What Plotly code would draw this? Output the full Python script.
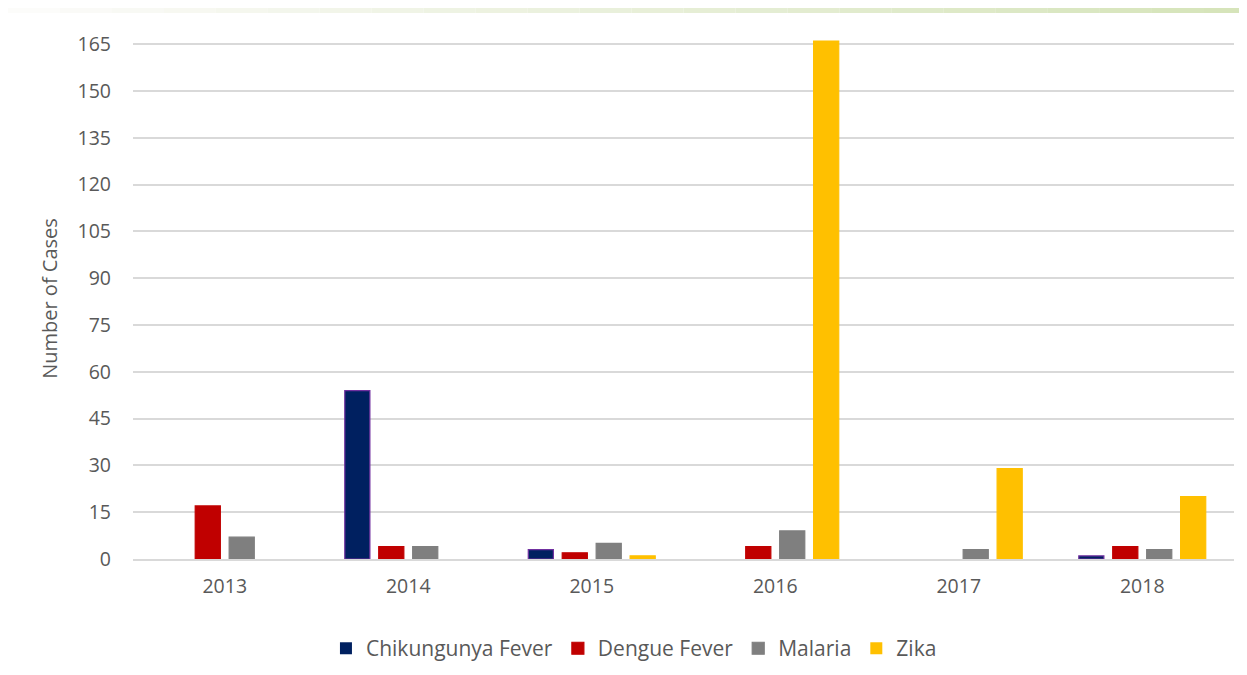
import plotly.graph_objects as go

years = ["2013", "2014", "2015", "2016", "2017", "2018"]
chikungunya = [0, 54, 3, 0, 0, 1]
dengue = [17, 4, 2, 4, 0, 4]
malaria = [7, 4, 5, 9, 3, 3]
zika = [0, 0, 1, 166, 29, 20]
y_ticks = [0, 15, 30, 45, 60, 75, 90, 105, 120, 135, 150, 165]

series = [
    ("Chikungunya Fever", chikungunya, "#002060", "#7030A0"),
    ("Dengue Fever", dengue, "#C00000", "#C00000"),
    ("Malaria", malaria, "#7F7F7F", "#7F7F7F"),
    ("Zika", zika, "#FFC000", "#FFC000"),
]

FONT = "Open Sans, sans-serif"
GREY = "#595959"

fig = go.Figure()
for name, vals, color, line in series:
    fig.add_trace(go.Bar(
        name=name, x=years, y=vals,
        marker=dict(color=color,
                    line=dict(color=line, width=[1.2 if v > 0 else 0 for v in vals])),
    ))

# faint gradient strip at the top of the image
n = 24
W = 1101
for i in range(n):
    t = i / (n - 1)
    r = int(252 - (252 - 214) * t)
    g = int(252 - (252 - 228) * t)
    b = int(250 - (250 - 186) * t)
    fig.add_shape(type="rect", xref="paper", yref="paper",
                  x0=(-125 + i * 1247 / n) / W,
                  x1=(-125 + (i + 1) * 1247 / n) / W,
                  y0=1 + 25 / 521, y1=1 + 30 / 521,
                  fillcolor=f"rgb({r},{g},{b})", line=dict(width=0), layer="below")

fig.update_layout(
    width=1247, height=675,
    margin=dict(l=125, r=21, t=30, b=124),
    paper_bgcolor="white", plot_bgcolor="white",
    barmode="group", bargap=0.26, bargroupgap=0.26,
    font=dict(family=FONT, size=19, color=GREY),
    showlegend=True,
    legend=dict(orientation="h", x=0.455, xanchor="center", y=-0.172, yanchor="middle",
                font=dict(family=FONT, size=21, color=GREY), itemwidth=30,
                traceorder="normal", tracegroupgap=0),
    xaxis=dict(showgrid=False, showline=True, linecolor="#D9D9D9", linewidth=1.5,
               ticks="", ticklabelstandoff=9,
               tickfont=dict(family=FONT, size=19.5, color=GREY)),
    yaxis=dict(range=[0, 167], tickvals=y_ticks, showgrid=True, gridcolor="#D9D9D9",
               gridwidth=1.5, zeroline=False, showline=False, ticks="",
               ticklabelstandoff=21,
               title=dict(text="Number of Cases", font=dict(family=FONT, size=20, color=GREY),
                          standoff=14),
               tickfont=dict(family=FONT, size=19.5, color=GREY)),
)
fig.update_traces(cliponaxis=False)
fig.write_html("out.html")
